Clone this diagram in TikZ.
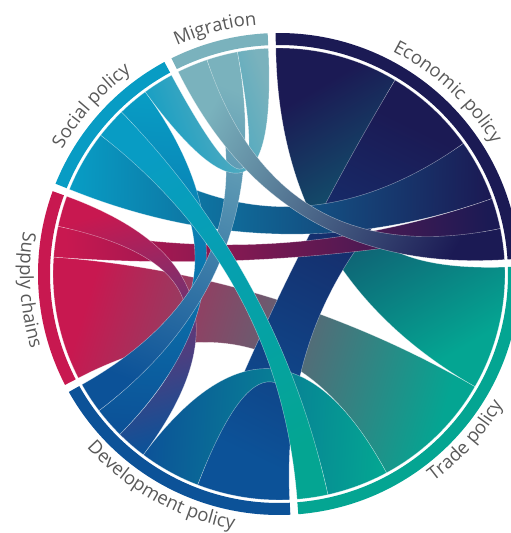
\documentclass[tikz,border=0pt]{standalone}
\usepackage{fontspec}
\setmainfont{Open Sans}
\usetikzlibrary{decorations.text}
\definecolor{eco}{RGB}{27,26,84}
\definecolor{trade}{RGB}{4,165,146}
\definecolor{devel}{RGB}{12,82,152}
\definecolor{supply}{RGB}{200,24,80}
\definecolor{social}{RGB}{8,156,196}
\definecolor{migra}{RGB}{122,178,189}
\definecolor{labgray}{RGB}{89,89,89}
\newcommand{\labfont}{\fontsize{18.5}{18.5}\selectfont}
%ribbon: arc #1->#2 to arc #3->#4 (clockwise), colour #5 -> #6
\newcommand{\ribbon}[6]{%
  \pgfmathsetmacro{\rs}{(#1+#2)/2}%
  \pgfmathsetmacro{\rt}{(#3+#4)/2}%
  \pgfmathsetmacro{\rang}{atan2(sin(\rs)-sin(\rt),cos(\rs)-cos(\rt))-90}%
  \path[chord,top color=#5,bottom color=#6,shading angle=\rang]
    (#1:226) arc[start angle=#1,end angle=#2,radius=226pt]
    .. controls (#2:75.3) and (#3:75.3) .. (#3:226)
    arc[start angle=#3,end angle=#4,radius=226pt]
    .. controls (#4:75.3) and (#1:75.3) .. cycle;}
%outer band of a group
\newcommand{\band}[3]{%
  \fill[#3] (#1:229) arc[start angle=#1,end angle=#2,radius=229pt]
    -- (#2:241) arc[start angle=#2,end angle=#1,radius=241pt] -- cycle;}
%labels: top ones read clockwise, bottom ones anticlockwise
\newcommand{\uplabel}[2]{%
  \pgfmathsetmacro{\la}{#1+60}\pgfmathsetmacro{\lb}{#1-60}%
  \path[decorate,decoration={text along path,text align=center,
    text color=labgray,text={|\labfont|#2}}]
    (\la:250) arc[start angle=\la,end angle=\lb,radius=250pt];}
\newcommand{\downlabel}[2]{%
  \pgfmathsetmacro{\la}{#1-60}\pgfmathsetmacro{\lb}{#1+60}%
  \path[decorate,decoration={text along path,text align=center,
    text color=labgray,text={|\labfont|#2}}]
    (\la:259) arc[start angle=\la,end angle=\lb,radius=259pt];}
\begin{document}
\begin{tikzpicture}[x=1pt,y=1pt,line join=round,
    chord/.style={draw=white,draw opacity=0.5,line width=0.4pt}]
  \useasboundingbox (-279,-259) rectangle (232,274);
  %Ribbons
  \ribbon{90.8}{59.1}{1.75}{-29.9}{eco}{trade}
  \ribbon{-29.9}{-61.6}{207.4}{175.7}{trade}{supply}
  \ribbon{59.1}{35.3}{272.7}{248.9}{eco}{devel}
  \ribbon{35.3}{19.5}{158}{142.1}{eco}{social}
  \ribbon{-61.6}{-77.5}{248.9}{233.1}{trade}{devel}
  \ribbon{19.5}{11.6}{175.7}{167.8}{eco}{supply}
  \ribbon{233.1}{225.2}{167.8}{159.9}{devel}{supply}
  \ribbon{225.2}{217.2}{134.2}{126.3}{devel}{social}
  \ribbon{217.2}{209.3}{108.6}{100.6}{devel}{migra}
  \ribbon{126.3}{118.4}{100.6}{92.7}{social}{migra}
  \ribbon{-77.5}{-85.4}{142.1}{134.2}{trade}{social}
  \ribbon{11.6}{3.65}{116.5}{108.6}{eco}{migra}
  %Outer ring
  \band{90.8}{3.65}{eco}
  \band{1.75}{-85.4}{trade}
  \band{272.7}{209.3}{devel}
  \band{207.4}{159.9}{supply}
  \band{158}{118.4}{social}
  \band{116.5}{92.7}{migra}
  %Labels
  \uplabel{47.2}{Economic policy}
  \downlabel{-41.8}{Trade policy}
  \downlabel{241}{Development policy}
  \downlabel{183.65}{Supply chains}
  \uplabel{138.2}{Social policy}
  \uplabel{104.6}{Migration}
\end{tikzpicture}
\end{document}
